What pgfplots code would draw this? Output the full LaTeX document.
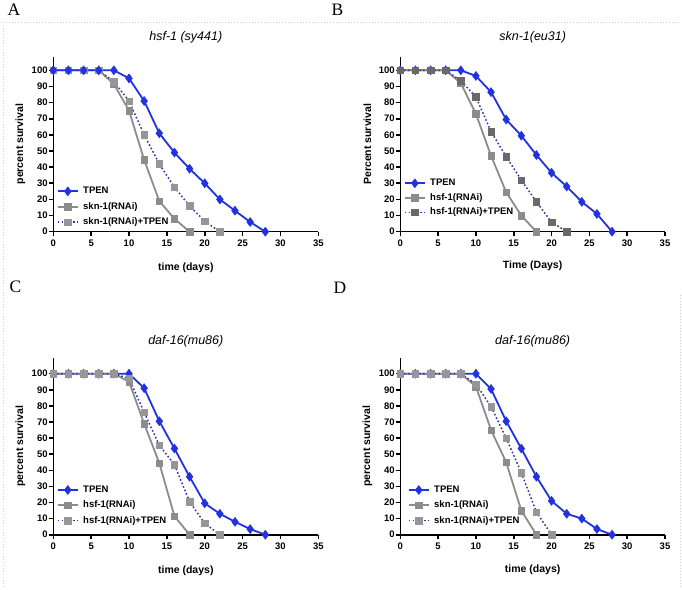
\documentclass[border=0pt]{standalone}
\usepackage{pgfplots}
\pgfplotsset{compat=1.18}
\usepackage{fontspec}
\setmainfont{Liberation Sans}
\newfontfamily\seriffont{Liberation Serif}
\definecolor{tblue}{RGB}{35,50,225}
\definecolor{sgray}{RGB}{140,140,140}
\definecolor{dblue}{RGB}{50,50,170}
\definecolor{mgray}{RGB}{150,150,150}
\definecolor{mgrayd}{RGB}{105,105,105}
\definecolor{bordergray}{RGB}{205,205,205}
\pgfplotsset{
  tpen/.style={tblue, line width=1.8pt, mark=diamond*, mark size=4.5pt, mark options={solid, fill=tblue, draw=tblue, line width=0.5pt}},
  rnai/.style={sgray, line width=1.8pt, mark=square*, mark size=3.2pt, mark options={solid, fill=sgray, draw=sgray, line width=0.5pt}},
  rnaitp/.style={dblue, line width=1.5pt, dash pattern=on 1.6pt off 2.2pt, mark=square*, mark size=3.2pt, mark options={solid, fill=mgray, draw=mgray, line width=0.5pt}},
  rnaitpd/.style={dblue, line width=1.5pt, dash pattern=on 1.6pt off 2.2pt, mark=square*, mark size=3.2pt, mark options={solid, fill=mgrayd, draw=mgrayd, line width=0.5pt}},
  panel/.style={
    scale only axis, xmin=0, xmax=35, ymin=0,
    axis lines=left, axis line style={-, line width=1.6pt, black},
    tick style={line width=1.6pt, black}, major tick length=4.5pt, tick align=outside,
    xtick={0,5,...,35}, ytick={0,10,...,100}, minor tick num=0,
    /pgf/number format/assume math mode=true,
    ticklabel style={font=\fontsize{9.5}{10}\selectfont\bfseries},
    yticklabel style={inner sep=1pt},
    label style={font=\fontsize{10.5}{12}\selectfont\bfseries},
    title style={font=\fontsize{12.5}{14}\selectfont\itshape, at={(0.5,1)}, anchor=base},
    ylabel style={at={(axis description cs:-0.1245,0.5)}, anchor=center},
    xlabel style={at={(axis description cs:0.5,0)}, anchor=base},
    clip=false,
    legend cell align=left,
    legend image code/.code={\draw[mark repeat=2, mark phase=2, ##1] plot coordinates {(0pt,0pt) (10pt,0pt) (20pt,0pt)};},
    legend style={draw=none, fill=none, inner sep=0pt, font=\fontsize{9.5}{10}\selectfont\bfseries,
      nodes={inner sep=0pt, text height=7pt, text depth=2pt}, row sep=6.3pt, column sep=4.5pt,
      at={(rel axis cs:0,0)}, anchor=south west, xshift=3.4pt, yshift=5pt},
  }
}
\begin{document}
\begin{tikzpicture}
\path[use as bounding box] (0pt,0pt) rectangle (682pt,589pt);
\draw[bordergray, line width=0.8pt, dash pattern=on 1pt off 2pt] (680pt,294pt) -- (680pt,1pt);
\draw[bordergray, line width=0.8pt, dash pattern=on 1pt off 2pt] (3pt,567pt) -- (680pt,567pt);
\draw[bordergray, line width=0.8pt, dash pattern=on 1pt off 2pt] (3pt,567pt) -- (3pt,1pt);
\node[font=\seriffont\fontsize{17.5}{18}\selectfont] at (14pt,579.7pt) {A};
\node[font=\seriffont\fontsize{17.5}{18}\selectfont] at (337.5pt,579.5pt) {B};
\node[font=\seriffont\fontsize{17.5}{18}\selectfont] at (15.5pt,302.3pt) {C};
\node[font=\seriffont\fontsize{17.5}{18}\selectfont] at (340pt,301.5pt) {D};

% Panel A
\begin{axis}[panel, at={(53.3pt,357.3pt)}, anchor=south west, width=265pt, height=175.1pt, ymax=108.5,
  title={hsf-1 (sy441)}, title style={yshift=9.7pt},
  xlabel={time (days)}, xlabel style={yshift=-38.8pt},
  ylabel={percent survival}]
\addplot[rnai, forget plot] coordinates {(0,100)(2,100)(4,100)(6,100)(8,91.5)(10,75)(12,44.5)(14,19)(16,8)(18,0)};
\addplot[rnaitp, forget plot] coordinates {(0,100)(2,100)(4,100)(6,100)(8,93)(10,81)(12,60)(14,42)(16,27.5)(18,16)(20,6.5)(22,0)};
\addplot[tpen] coordinates {(0,100)(2,100)(4,100)(6,100)(8,100)(10,95)(12,81)(14,61)(16,49)(18,39)(20,30)(22,20)(24,13)(26,6)(28,0)};
\addlegendentry{TPEN}
\addlegendimage{rnai}
\addlegendentry{skn-1(RNAi)}
\addlegendimage{rnaitp}
\addlegendentry{skn-1(RNAi)+TPEN}
\end{axis}

% Panel B
\begin{axis}[panel, at={(400.3pt,357.3pt)}, anchor=south west, width=264.7pt, height=175.1pt, ymax=108.5,
  title={skn-1(eu31)}, title style={yshift=9.7pt},
  xlabel={Time (Days)}, xlabel style={yshift=-36.8pt},
  ylabel={Percent survival},
  legend style={row sep=5.5pt, yshift=9.7pt}]
\addplot[tpen] coordinates {(0,100)(2,100)(4,100)(6,100)(8,100)(10,96.5)(12,86.5)(14,69.5)(16,59.5)(18,47.5)(20,36.5)(22,28)(24,18.5)(26,11)(28,0)};
\addlegendentry{TPEN}
\addplot[rnai] coordinates {(0,100)(2,100)(4,100)(6,100)(8,92)(10,73)(12,47)(14,24.5)(16,10)(18,0)};
\addlegendentry{hsf-1(RNAi)}
\addplot[rnaitpd] coordinates {(0,100)(2,100)(4,100)(6,100)(8,93.5)(10,83.5)(12,62)(14,46.5)(16,32)(18,18.5)(20,6)(22,0)};
\addlegendentry{hsf-1(RNAi)+TPEN}
\end{axis}

% Panel C
\begin{axis}[panel, at={(53.3pt,54.3pt)}, anchor=south west, width=265pt, height=177.1pt, ymax=110,
  title={daf-16(mu86)}, title style={yshift=7.3pt},
  xlabel={time (days)}, xlabel style={yshift=-38.8pt},
  ylabel={percent survival},
  legend style={yshift=4.4pt}]
\addplot[tpen] coordinates {(0,100)(2,100)(4,100)(6,100)(8,100)(10,100)(12,91)(14,70.5)(16,53.5)(18,36)(20,19.5)(22,13)(24,8)(26,3.5)(28,0)};
\addlegendentry{TPEN}
\addplot[rnai] coordinates {(0,100)(2,100)(4,100)(6,100)(8,100)(10,95)(12,69)(14,44.5)(16,11.5)(18,0)};
\addlegendentry{hsf-1(RNAi)}
\addplot[rnaitp] coordinates {(0,100)(2,100)(4,100)(6,100)(8,100)(10,97)(12,76)(14,55.5)(16,43.5)(18,20.5)(20,7)(22,0)};
\addlegendentry{hsf-1(RNAi)+TPEN}
\end{axis}

% Panel D
\begin{axis}[panel, at={(400.3pt,54.3pt)}, anchor=south west, width=264.7pt, height=177.1pt, ymax=110,
  title={daf-16(mu86)}, title style={yshift=7.3pt},
  xlabel={time (days)}, xlabel style={yshift=-37.8pt},
  ylabel={percent survival},
  legend style={yshift=4.4pt, xshift=4pt}]
\addplot[tpen] coordinates {(0,100)(2,100)(4,100)(6,100)(8,100)(10,100)(12,90.5)(14,70.5)(16,53.5)(18,36)(20,21)(22,13)(24,10)(26,3.5)(28,0)};
\addlegendentry{TPEN}
\addplot[rnai] coordinates {(0,100)(2,100)(4,100)(6,100)(8,100)(10,92)(12,65)(14,45)(16,15)(18,0)};
\addlegendentry{skn-1(RNAi)}
\addplot[rnaitp] coordinates {(0,100)(2,100)(4,100)(6,100)(8,100)(10,93.5)(12,79.5)(14,60)(16,38.5)(18,14)(20,0)};
\addlegendentry{skn-1(RNAi)+TPEN}
\end{axis}
\end{tikzpicture}
\end{document}
